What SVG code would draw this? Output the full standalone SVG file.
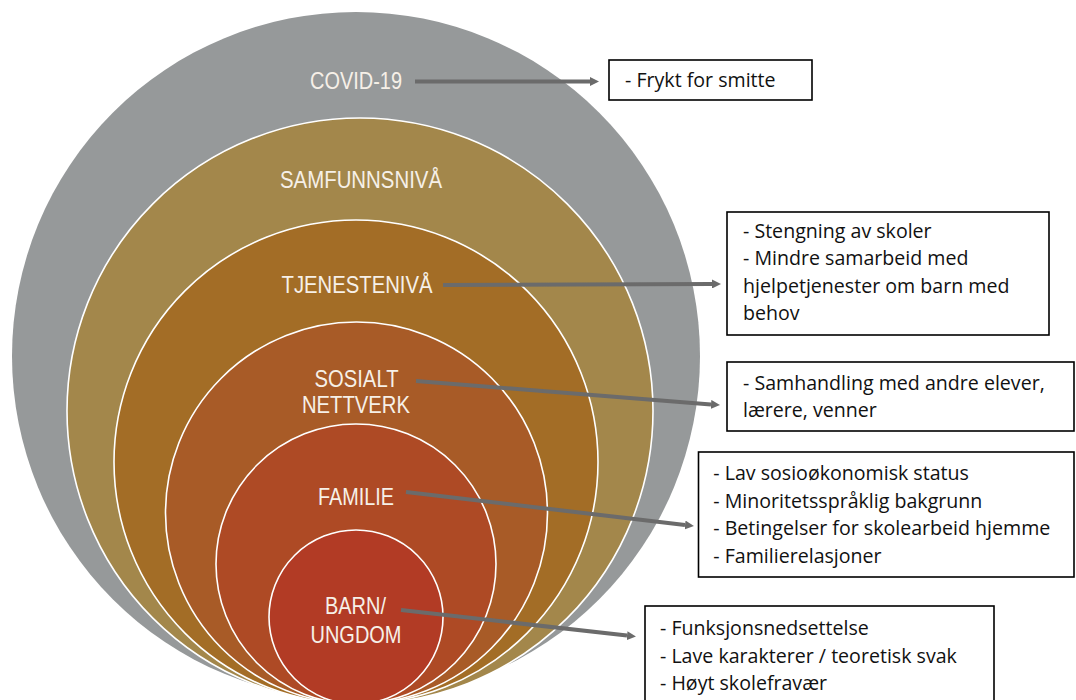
<svg xmlns="http://www.w3.org/2000/svg" width="1076" height="700" viewBox="0 0 1076 700">
<defs>
<style>
.ring{stroke:#ffffff;stroke-width:1.6}
.lbl{font-family:"Liberation Sans",Arial,sans-serif;fill:#f6f0e8;text-anchor:middle}
.box{fill:#ffffff;stroke:#000000;stroke-width:1.6}
.bt{font-family:"Open Sans","Noto Sans",sans-serif;font-size:19.6px;fill:#111111}
.con{stroke:#6b6b6b;stroke-width:4;fill:none;marker-end:url(#ah)}
</style>
<marker id="ah" markerUnits="userSpaceOnUse" markerWidth="9" markerHeight="9" refX="0" refY="4.5" orient="auto">
<path d="M0,0 L9,4.5 L0,9 z" fill="#6b6b6b"/>
</marker>
</defs>
<rect width="1076" height="700" fill="#ffffff"/>
<g id="covid19">
<circle cx="356" cy="356" r="344" fill="#96999a"/>
<text class="lbl" x="356" y="89" font-size="24" textLength="92" lengthAdjust="spacingAndGlyphs">COVID-19</text>
</g>
<g id="samfunnsniva">
<circle class="ring" cx="360" cy="411" r="293" fill="#a3874b"/>
<text class="lbl" x="361" y="188" font-size="23" textLength="162" lengthAdjust="spacingAndGlyphs">SAMFUNNSNIVÅ</text>
</g>
<g id="tjenesteniva">
<circle class="ring" cx="356" cy="462" r="242" fill="#a36d26"/>
<text class="lbl" x="357" y="293" font-size="24" textLength="151" lengthAdjust="spacingAndGlyphs">TJENESTENIVÅ</text>
</g>
<g id="sosialt-nettverk">
<circle class="ring" cx="356.5" cy="513" r="191" fill="#a85b27"/>
<text class="lbl" x="356.5" y="387" font-size="23.5" textLength="84" lengthAdjust="spacingAndGlyphs">SOSIALT</text>
<text class="lbl" x="356" y="413" font-size="23.5" textLength="108" lengthAdjust="spacingAndGlyphs">NETTVERK</text>
</g>
<g id="familie">
<circle class="ring" cx="356" cy="564" r="140" fill="#ae4a25"/>
<text class="lbl" x="356" y="505" font-size="24.5" textLength="76" lengthAdjust="spacingAndGlyphs">FAMILIE</text>
</g>
<g id="barn-ungdom">
<circle class="ring" cx="356" cy="617" r="87" fill="#b23b25"/>
<text class="lbl" x="355.5" y="614" font-size="24.5" textLength="61" lengthAdjust="spacingAndGlyphs">BARN/</text>
<text class="lbl" x="356" y="643" font-size="24.5" textLength="91" lengthAdjust="spacingAndGlyphs">UNGDOM</text>
</g>
<g id="connectors">
<line class="con" x1="415" y1="81.5" x2="590" y2="81.5"/>
<line class="con" x1="443" y1="285" x2="712" y2="284"/>
<line class="con" x1="416" y1="381" x2="711" y2="404.4"/>
<line class="con" x1="406" y1="492" x2="685" y2="525"/>
<line class="con" x1="401" y1="610" x2="627" y2="635.6"/>
</g>
<g id="box-covid">
<rect class="box" x="609" y="60" width="203" height="40"/>
<text class="bt" x="625" y="87">- Frykt for smitte</text>
</g>
<g id="box-tjeneste">
<rect class="box" x="727" y="212" width="322" height="123"/>
<text class="bt" x="743" y="237.5">- Stengning av skoler</text>
<text class="bt" x="743" y="265">- Mindre samarbeid med</text>
<text class="bt" x="743" y="292.5">hjelpetjenester om barn med</text>
<text class="bt" x="743" y="320">behov</text>
</g>
<g id="box-sosialt">
<rect class="box" x="727" y="362" width="347" height="69"/>
<text class="bt" x="743" y="390">- Samhandling med andre elever,</text>
<text class="bt" x="743" y="417">lærere, venner</text>
</g>
<g id="box-familie">
<rect class="box" x="698.5" y="452" width="375.5" height="125"/>
<text class="bt" x="713.3" y="480">- Lav sosioøkonomisk status</text>
<text class="bt" x="713.3" y="507.5">- Minoritetsspråklig bakgrunn</text>
<text class="bt" x="713.3" y="535">- Betingelser for skolearbeid hjemme</text>
<text class="bt" x="713.3" y="562.5">- Familierelasjoner</text>
</g>
<g id="box-barn">
<rect class="box" x="645" y="606" width="349" height="110"/>
<text class="bt" x="660" y="635">- Funksjonsnedsettelse</text>
<text class="bt" x="660" y="662.5">- Lave karakterer / teoretisk svak</text>
<text class="bt" x="660" y="690">- Høyt skolefravær</text>
</g>
</svg>
